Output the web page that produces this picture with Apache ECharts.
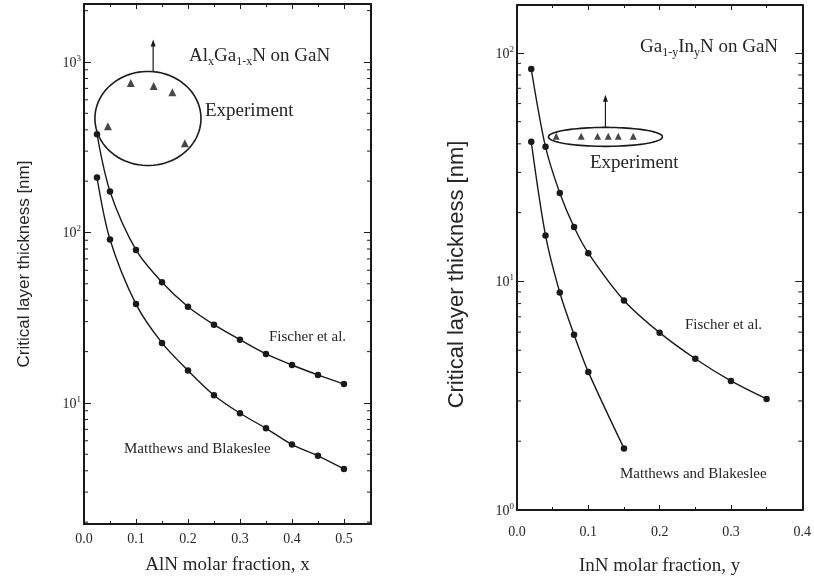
<!DOCTYPE html>
<html>
<head>
<meta charset="utf-8">
<script src="https://cdn.jsdelivr.net/npm/echarts@6/dist/echarts.min.js"></script>
<style>
html, body { margin: 0; background: #fff; }
#chart { width: 814px; height: 582px; }
</style>
</head>
<body>
<div id="chart"></div>
<script>
// AlGaN on GaN (left panel)
var alX = [0.025, 0.05, 0.1, 0.15, 0.2, 0.25, 0.3, 0.35, 0.4, 0.45, 0.5];
var alFischer = [377, 174, 79, 51, 36.7, 28.8, 23.5, 19.4, 16.7, 14.6, 12.9];
var alMatthews = [210, 91, 38, 22.5, 15.5, 11.1, 8.7, 7.1, 5.7, 4.9, 4.1];
var alExpX = [0.046, 0.09, 0.134, 0.17, 0.194];
var alExpY = [420, 752, 722, 665, 334];
var alRing = [0.021, 0.225, 247, 880];   // x0, x1, y0, y1
var alArrow = [0.133, 1336];

// GaInN on GaN (right panel)
var inFischerX = [0.02, 0.04, 0.06, 0.08, 0.1, 0.15, 0.2, 0.25, 0.3, 0.35];
var inFischer = [85, 38.8, 24.4, 17.3, 13.3, 8.26, 5.97, 4.59, 3.67, 3.06];
var inMatthewsX = [0.02, 0.04, 0.06, 0.08, 0.1, 0.15];
var inMatthews = [40.8, 15.9, 8.95, 5.85, 4.02, 1.86];
var inExpX = [0.055, 0.09, 0.113, 0.128, 0.142, 0.163];
var inExpY = [43.2, 43.2, 43.2, 43.2, 43.2, 43.2];
var inRing = [0.044, 0.204, 39, 47.2];
var inArrow = [0.124, 65];

var xTicks = ['0.0', '0.1', '0.2', '0.3', '0.4', '0.5'];

var ink = '#1a1a1a';
var textInk = '#262626';
var serif = 'Liberation Serif';
var sans = 'Liberation Sans';

function zip(xs, ys) {
    var out = [];
    for (var i = 0; i < xs.length; i++) out.push([xs[i], ys[i]]);
    return out;
}

// 2..9 times each power of ten, inside [min, max]
function logMinor(min, max) {
    var out = [];
    for (var k = Math.floor(Math.log10(min)); k <= Math.ceil(Math.log10(max)); k++) {
        for (var m = 2; m <= 9; m++) {
            var v = m * Math.pow(10, k);
            if (v > min && v < max) out.push([0.01, v]);
        }
    }
    return out;
}

function xLabel(v) {
    var i = Math.round(v * 10);
    if (Math.abs(v * 10 - i) > 1e-6 || i >= xTicks.length) return '';
    return xTicks[i];
}

function yLabel(v) {
    var l = Math.log10(v);
    var e = Math.round(l);
    if (Math.abs(l - e) > 1e-6) return '';
    return '{b|10}{s|' + e + '}';
}

function xAxisOf(grid, max, pos, name, margin, gap) {
    return {
        type: 'value', gridIndex: grid, position: pos, min: 0, max: max, interval: 0.1,
        splitLine: { show: false },
        axisLine: { onZero: false, lineStyle: { color: ink, width: 2 } },
        axisTick: { inside: true, length: 5, lineStyle: { color: ink } },
        minorTick: { show: true, splitNumber: 2, length: 3, lineStyle: { color: ink } },
        axisLabel: { show: pos === 'bottom', formatter: xLabel, color: textInk,
            fontFamily: serif, fontSize: 14, margin: margin },
        name: name, nameLocation: 'middle', nameGap: gap,
        nameTextStyle: { fontFamily: serif, fontSize: 19, color: textInk }
    };
}

function yAxisOf(grid, min, max, pos, name, gap, size, shift) {
    return {
        type: 'log', logBase: 10, gridIndex: grid, position: pos, min: min, max: max,
        splitLine: { show: false },
        axisLine: { onZero: false, lineStyle: { color: ink, width: 2 } },
        axisTick: { inside: true, length: 7, lineStyle: { color: ink } },
        minorTick: { show: false },
        axisLabel: {
            show: pos === 'left', formatter: yLabel, color: textInk, margin: 3,
            rich: {
                b: { fontFamily: serif, fontSize: 14, color: textInk, lineHeight: 16, verticalAlign: 'bottom' },
                s: { fontFamily: serif, fontSize: 9, color: textInk, lineHeight: 16, verticalAlign: 'top' }
            }
        },
        name: name, nameLocation: 'middle', nameGap: gap,
        nameTextStyle: { fontFamily: sans, fontSize: size, color: textInk, padding: [0, shift, 0, 0] }
    };
}

function ringItem(params, api) {
    var p0 = api.coord([api.value(0), api.value(3)]);
    var p1 = api.coord([api.value(1), api.value(2)]);
    var cx = (p0[0] + p1[0]) / 2, cy = (p0[1] + p1[1]) / 2;
    var rx = Math.abs(p1[0] - p0[0]) / 2, ry = Math.abs(p1[1] - p0[1]) / 2;
    var pts = [];
    for (var i = 0; i <= 90; i++) {
        var a = i / 90 * 2 * Math.PI;
        pts.push([cx + rx * Math.cos(a), cy + ry * Math.sin(a)]);
    }
    var tip = api.coord([api.value(4), api.value(5)]);
    var dx = (tip[0] - cx) / rx;
    var base = cy - ry * Math.sqrt(Math.max(0, 1 - dx * dx));
    return {
        type: 'group',
        children: [
            { type: 'polyline', shape: { points: pts }, style: { stroke: ink, lineWidth: 1.6, fill: null } },
            { type: 'line', shape: { x1: tip[0], y1: base, x2: tip[0], y2: tip[1] + 4 },
              style: { stroke: ink, lineWidth: 1.2 } },
            { type: 'polygon', shape: { points: [[tip[0], tip[1] - 1], [tip[0] - 2.5, tip[1] + 6], [tip[0] + 2.5, tip[1] + 6]] },
              style: { fill: ink } }
        ]
    };
}

// minor log ticks drawn inside both vertical edges of the plot box
function tickItem(params, api) {
    var cs = params.coordSys;
    var y = api.coord([api.value(0), api.value(1)])[1];
    return {
        type: 'group',
        children: [
            { type: 'line', shape: { x1: cs.x, y1: y, x2: cs.x + 4, y2: y }, style: { stroke: ink, lineWidth: 1 } },
            { type: 'line', shape: { x1: cs.x + cs.width, y1: y, x2: cs.x + cs.width - 4, y2: y }, style: { stroke: ink, lineWidth: 1 } }
        ]
    };
}

function curve(name, xi, yi, data) {
    return {
        name: name, type: 'line', xAxisIndex: xi, yAxisIndex: yi, data: data,
        smooth: 0.3, symbol: 'circle', symbolSize: 6.5, showSymbol: true,
        itemStyle: { color: ink }, lineStyle: { color: ink, width: 1.4 },
        animation: false
    };
}

function expPoints(xi, yi, data, size) {
    return {
        name: 'Experiment', type: 'scatter', xAxisIndex: xi, yAxisIndex: yi, data: data,
        symbol: 'triangle', symbolSize: size, itemStyle: { color: ink }, animation: false
    };
}

function ring(xi, yi, r, arrow) {
    return {
        type: 'custom', xAxisIndex: xi, yAxisIndex: yi, renderItem: ringItem, clip: false,
        data: [[r[0], r[1], r[2], r[3], arrow[0], arrow[1]]],
        encode: { x: [0, 1, 4], y: [2, 3, 5] }, silent: true, animation: false
    };
}

function minorTicks(xi, yi, data) {
    return {
        type: 'custom', xAxisIndex: xi, yAxisIndex: yi, renderItem: tickItem, clip: false,
        data: data, encode: { x: 0, y: 1 }, silent: true, animation: false
    };
}

function label(x, y, text, size) {
    return { type: 'text', left: x, top: y,
        style: { text: text, font: size + 'px "Liberation Serif"', fill: textInk } };
}

function richLabel(x, y, text) {
    return { type: 'text', left: x, top: y,
        style: {
            text: text, fill: textInk,
            rich: {
                a: { fontFamily: serif, fontSize: 19, fill: textInk, lineHeight: 22, verticalAlign: 'middle' },
                b: { fontFamily: serif, fontSize: 12, fill: textInk, lineHeight: 12, verticalAlign: 'bottom' }
            }
        } };
}

var chart = echarts.init(document.getElementById('chart'));
chart.setOption({
    backgroundColor: '#fff',
    animation: false,
    grid: [
        { left: 84, top: 4, width: 287, height: 520 },
        { left: 517, top: 5, width: 290, height: 505 }
    ],
    xAxis: [
        xAxisOf(0, 0.552, 'bottom', 'AlN molar fraction, x', 8, 32),
        xAxisOf(0, 0.552, 'top', '', 8, 0),
        xAxisOf(1, 0.4, 'bottom', 'InN molar fraction, y', 15, 47),
        xAxisOf(1, 0.4, 'top', '', 8, 0)
    ],
    yAxis: [
        yAxisOf(0, 1.95, 2188, 'left', 'Critical layer thickness [nm]', 51, 17, 0),
        yAxisOf(0, 1.95, 2188, 'right', '', 0, 17, 0),
        yAxisOf(1, 1, 162, 'left', 'Critical layer thickness [nm]', 49, 22, 34),
        yAxisOf(1, 1, 162, 'right', '', 0, 17, 0)
    ],
    series: [
        minorTicks(0, 0, logMinor(1.95, 2188)),
        curve('Fischer et al.', 0, 0, zip(alX, alFischer)),
        curve('Matthews and Blakeslee', 0, 0, zip(alX, alMatthews)),
        expPoints(0, 0, zip(alExpX, alExpY), 8),
        ring(0, 0, alRing, alArrow),
        minorTicks(2, 2, logMinor(1, 162)),
        curve('Fischer et al.', 2, 2, zip(inFischerX, inFischer)),
        curve('Matthews and Blakeslee', 2, 2, zip(inMatthewsX, inMatthews)),
        expPoints(2, 2, zip(inExpX, inExpY), 7),
        ring(2, 2, inRing, inArrow)
    ],
    graphic: [
        richLabel(189, 47, '{a|Al}{b|x}{a|Ga}{b|1-x}{a|N on GaN}'),
        label(205, 102, 'Experiment', 19),
        label(269, 330, 'Fischer et al.', 15),
        label(124, 442, 'Matthews and Blakeslee', 15),
        richLabel(640, 38, '{a|Ga}{b|1-y}{a|In}{b|y}{a|N on GaN}'),
        label(590, 154, 'Experiment', 19),
        label(685, 318, 'Fischer et al.', 15),
        label(620, 467, 'Matthews and Blakeslee', 15)
    ]
});
</script>
</body>
</html>
